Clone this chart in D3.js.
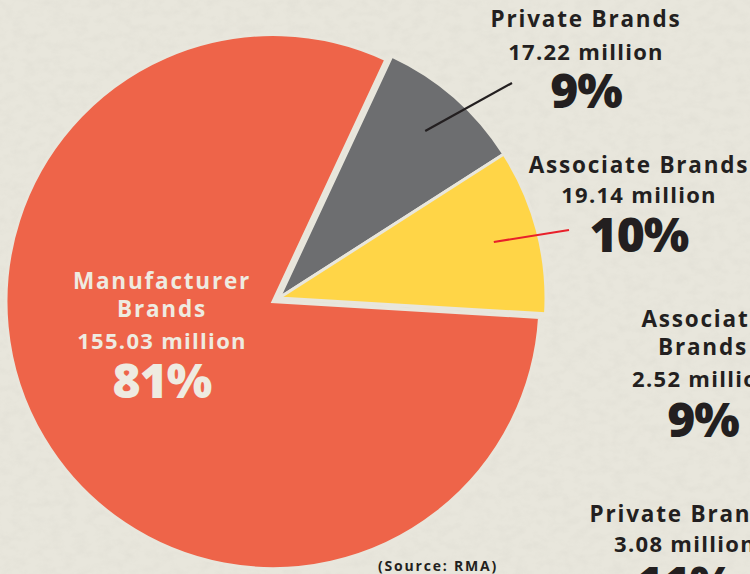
<!DOCTYPE html>
<html>
<head>
<meta charset="utf-8">
<script src="https://cdn.jsdelivr.net/npm/d3@7"></script>
<style>
  html, body { margin: 0; padding: 0; background: #e8e6dc; }
  svg { display: block; }
  text { font-family: "Open Sans", Lato, sans-serif; }
</style>
</head>
<body>
<svg id="chart" width="750" height="574"></svg>
<script>
// Market share by brand type (millions)
const categories = ["Private Brands", "Associate Brands", "Manufacturer Brands"];
const values = [17.22, 19.14, 155.03];
const valueLabels = ["17.22 million", "19.14 million", "155.03 million"];
const colors = ["#6d6e70", "#ffd547", "#ee6449"];

// Side panel of a companion breakdown (runs off the edge)
const sideNames = [["Associate", "Brands"], ["Private Brands"]];
const sideValueLabels = ["2.52 million", "3.08 million"];
const sidePercents = ["9%", "11%"];

const W = 750, H = 574;
const cx = 279, cy = 298, R = 267;
const bg = "#e8e6dc";
const svg = d3.select("#chart");

// paper texture
const defs = svg.append("defs");
const grain = defs.append("filter").attr("id", "grain")
  .attr("x", 0).attr("y", 0).attr("width", "100%").attr("height", "100%");
grain.append("feTurbulence").attr("type", "fractalNoise")
  .attr("baseFrequency", "0.08 0.12").attr("numOctaves", 3).attr("seed", 7).attr("result", "n");
grain.append("feColorMatrix").attr("in", "n").attr("type", "matrix")
  .attr("values", "0 0 0 0 0.55  0 0 0 0 0.54  0 0 0 0 0.48  0 0 0 -1.4 0.85");
svg.append("rect").attr("width", W).attr("height", H).attr("fill", bg);
svg.append("rect").attr("width", W).attr("height", H).attr("filter", "url(#grain)").attr("opacity", 0.18);

const total = d3.sum(values);
const pct = v => Math.round(v / total * 100) + "%";

const pie = d3.pie().sort(null)
  .startAngle(25 * Math.PI / 180)
  .endAngle(25 * Math.PI / 180 + 2 * Math.PI);
const arcs = pie(values);
const arc = d3.arc().innerRadius(0).outerRadius(R);
const explode = [0, 0, 7];

const g = svg.append("g").attr("transform", `translate(${cx},${cy})`);
g.selectAll("path.slice").data(arcs).join("path")
  .attr("class", "slice")
  .attr("d", arc)
  .attr("fill", (d, i) => colors[i])
  .attr("stroke", bg).attr("stroke-width", 3).attr("stroke-linejoin", "miter")
  .attr("transform", (d, i) => {
    const a = (d.startAngle + d.endAngle) / 2;
    return `translate(${Math.sin(a) * explode[i]},${-Math.cos(a) * explode[i]})`;
  });

// leader lines from inside the small slices to their labels
const lineArc = d3.arc().innerRadius(222).outerRadius(222);
const leaders = [
  { i: 0, end: [512, 83], color: "#231f20" },
  { i: 1, end: [569, 230], color: "#e8202a" }
];
leaders.forEach(l => {
  const [x0, y0] = lineArc.centroid(arcs[l.i]);
  svg.append("line")
    .attr("x1", cx + x0).attr("y1", cy + y0)
    .attr("x2", l.end[0]).attr("y2", l.end[1])
    .attr("stroke", l.color).attr("stroke-width", 2.2);
});

function labelBlock(x, lines, fill) {
  const t = svg.append("g").attr("fill", fill).attr("text-anchor", "middle");
  lines.forEach(l => {
    t.append("text").attr("x", x).attr("y", l.y)
      .attr("font-size", l.size).attr("font-weight", l.weight)
      .attr("letter-spacing", l.ls || 0)
      .text(l.text);
  });
}

const dark = "#231f20";
const NAME = 22.5, VAL = 22, PCT = 48;
const NLS = 1.8, VLS = 1.3, PLS = -1;
// Private Brands
labelBlock(586, [
  { y: 27, text: categories[0], size: NAME, weight: 700, ls: NLS },
  { y: 60, text: valueLabels[0], size: VAL, weight: 700, ls: VLS },
  { y: 108, text: pct(values[0]), size: PCT, weight: 800, ls: PLS }
], dark);
// Associate Brands
labelBlock(639, [
  { y: 173, text: categories[1], size: NAME, weight: 700, ls: NLS },
  { y: 203, text: valueLabels[1], size: VAL, weight: 700, ls: VLS },
  { y: 252, text: pct(values[1]), size: PCT, weight: 800, ls: PLS }
], dark);
// Manufacturer Brands (inside the slice)
labelBlock(162, [
  { y: 289, text: "Manufacturer", size: NAME, weight: 700, ls: NLS },
  { y: 317, text: "Brands", size: NAME, weight: 700, ls: NLS },
  { y: 349, text: valueLabels[2], size: VAL, weight: 700, ls: VLS },
  { y: 398, text: pct(values[2]), size: PCT, weight: 800, ls: PLS }
], "#eeebe1");

// companion breakdown, partly off-canvas
labelBlock(703, [
  { y: 327, text: sideNames[0][0], size: NAME, weight: 700, ls: NLS },
  { y: 355, text: sideNames[0][1], size: NAME, weight: 700, ls: NLS },
  { y: 387, text: sideValueLabels[0], size: VAL, weight: 700, ls: VLS },
  { y: 437, text: sidePercents[0], size: PCT, weight: 800, ls: PLS }
], dark);
labelBlock(685, [
  { y: 522, text: sideNames[1][0], size: NAME, weight: 700, ls: NLS },
  { y: 552, text: sideValueLabels[1], size: VAL, weight: 700, ls: VLS },
  { y: 601, text: sidePercents[1], size: PCT, weight: 800, ls: PLS }
], dark);

svg.append("text").attr("x", 438).attr("y", 571)
  .attr("text-anchor", "middle").attr("font-size", 14).attr("font-weight", 700)
  .attr("letter-spacing", 1.8).attr("fill", dark)
  .text("(Source: RMA)");
</script>
</body>
</html>
